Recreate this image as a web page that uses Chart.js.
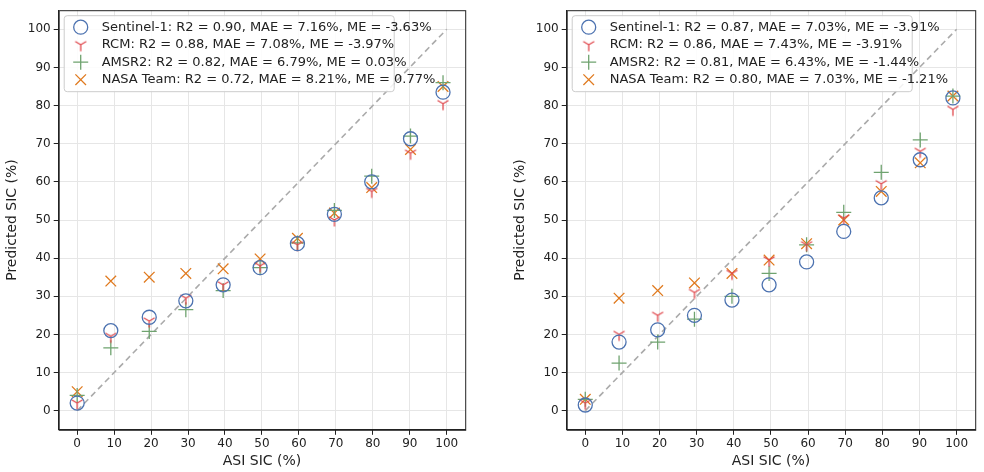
<!DOCTYPE html>
<html><head><meta charset="utf-8">
<script src="https://cdn.jsdelivr.net/npm/chart.js@4/dist/chart.umd.min.js"></script>
<style>body{margin:0;background:#fff}.w{position:absolute;top:0;height:472px}</style>
</head><body>
<div class="w" style="left:0;width:474px"><canvas id="c1"></canvas></div>
<div class="w" style="left:508px;width:476px"><canvas id="c2"></canvas></div>
<script>
const xs = [0, 9.1, 19.5, 29.4, 39.5, 49.5, 59.6, 69.6, 79.7, 90.2, 99.0];
const ticks = [0,10,20,30,40,50,60,70,80,90,100];
const L_s1 = [2, 21, 24.5, 28.8, 33, 37.5, 43.8, 51.5, 60, 71.3, 83.5];
const L_rcm = [2, 19.5, 23.5, 29.5, 33, 38, 43.5, 50, 57.5, 67.5, 80.5];
const L_amsr = [4, 16.5, 20.8, 26.5, 31.5, 37.5, 44, 52.5, 61.5, 72, 86];
const L_nasa = [5, 34, 35, 36, 37.2, 39.8, 45.2, 51.8, 58.5, 68.5, 85];
const R_s1 = [1.5, 18, 21.2, 25, 29, 33, 39, 47, 55.8, 65.8, 82];
const R_rcm = [2, 20, 25, 31, 36, 39.5, 43.5, 50.5, 59.5, 68, 79];
const R_amsr = [3, 12.5, 18, 24, 30, 36, 43.5, 52, 62.5, 71, 82.5];
const R_nasa = [3, 29.5, 31.5, 33.5, 36, 39.5, 43.8, 50, 57.5, 65, 82.5];
const L_labels = ['Sentinel-1: R2 = 0.90, MAE = 7.16%, ME = -3.63%','RCM: R2 = 0.88, MAE = 7.08%, ME = -3.97%','AMSR2: R2 = 0.82, MAE = 6.79%, ME = 0.03%','NASA Team: R2 = 0.72, MAE = 8.21%, ME = 0.77%'];
const R_labels = ['Sentinel-1: R2 = 0.87, MAE = 7.03%, ME = -3.91%','RCM: R2 = 0.86, MAE = 7.43%, ME = -3.91%','AMSR2: R2 = 0.81, MAE = 6.43%, ME = -1.44%','NASA Team: R2 = 0.80, MAE = 7.03%, ME = -1.21%'];
const COLORS = ['#4C72B0','#E0474C','#6FA36F','#E07A1F'];

function triCanvas(color){
  const c=document.createElement('canvas');c.width=16;c.height=16;const g=c.getContext('2d');
  g.strokeStyle=color;g.lineWidth=1.3;g.beginPath();
  g.moveTo(8,8);g.lineTo(2.5,4.8);g.moveTo(8,8);g.lineTo(13.5,4.8);g.moveTo(8,8);g.lineTo(8,14.5);g.stroke();return c;
}
const styles=['circle',triCanvas(COLORS[1]),'cross','crossRot'];
const radii=[7,7,7.5,7.5];

const legendPlugin={id:'lg',afterDraw(ch,a,o){
  const g=ch.ctx,ca=ch.chartArea;
  g.save();g.strokeStyle='#222';g.lineWidth=1;g.strokeRect(ca.left+.5,ca.top+.5,ca.right-ca.left,ca.bottom-ca.top);
  const x0=ca.left+5,y0=ca.top+5,w=o.w,h=76;
  g.fillStyle='rgba(255,255,255,0.85)';g.strokeStyle='#ccc';
  g.beginPath();g.roundRect(x0+.5,y0+.5,w,h,3);g.fill();g.stroke();
  g.font='13px "DejaVu Sans"';g.textBaseline='middle';
  o.labels.forEach((t,i)=>{const y=y0+12+i*17.5;
    g.strokeStyle=COLORS[i];g.fillStyle='rgba(0,0,0,0)';g.lineWidth=1.3;
    Chart.helpers.drawPoint(g,{pointStyle:styles[i],radius:radii[i],borderWidth:1.3,rotation:0},x0+17,y);
    g.fillStyle='#222';g.fillText(t,x0+38,y);});
  g.restore();}};

function make(id,data,labels,lw){
  const ds=data.map((d,i)=>({type:'scatter',data:xs.map((x,j)=>({x,y:d[j]})),pointStyle:styles[i],pointRadius:radii[i],
    borderColor:COLORS[i],backgroundColor:'rgba(0,0,0,0)',pointBorderWidth:1.3,order:i}));
  ds.unshift({type:'line',data:[{x:0,y:0},{x:100,y:100}],borderColor:'#aaa',borderDash:[6,4],borderWidth:1.6,pointRadius:0,order:10});
  new Chart(document.getElementById(id),{type:'scatter',data:{datasets:ds},plugins:[legendPlugin],
    options:{animation:false,responsive:true,maintainAspectRatio:false,layout:{padding:{top:7,right:8,bottom:0}},
      plugins:{legend:{display:false},tooltip:{enabled:false},lg:{labels,w:lw}},
      scales:{
        x:{type:'linear',min:-5,max:105,afterBuildTicks:s=>{s.ticks=ticks.map(v=>({value:v}))},
          title:{display:true,text:'ASI SIC (%)',color:'#222',font:{size:14,family:'DejaVu Sans'},padding:{top:0,bottom:2}},
          ticks:{color:'#222',font:{size:12,family:'DejaVu Sans'},padding:2},grid:{color:'#e6e6e6',tickColor:'#222',tickLength:5},border:{color:'#222'}},
        y:{min:-5,max:105,afterBuildTicks:s=>{s.ticks=ticks.map(v=>({value:v}))},
          title:{display:true,text:'Predicted SIC (%)',color:'#222',font:{size:14,family:'DejaVu Sans'}},
          ticks:{color:'#222',font:{size:12,family:'DejaVu Sans'}},grid:{color:'#e6e6e6',tickColor:'#222',tickLength:5},border:{color:'#222'}}}}});
}
make('c1',[L_s1,L_rcm,L_amsr,L_nasa],L_labels,330);
make('c2',[R_s1,R_rcm,R_amsr,R_nasa],R_labels,340);
</script></body></html>
